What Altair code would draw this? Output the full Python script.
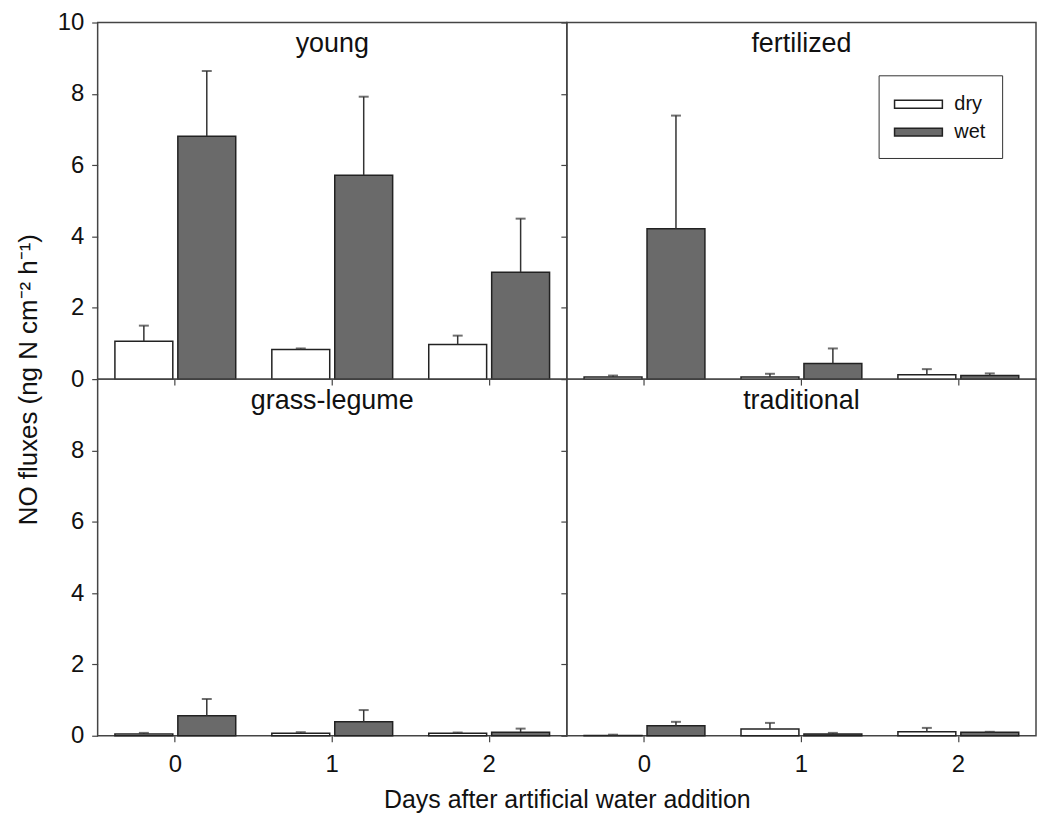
import altair as alt
import pandas as pd

days = ["0", "1", "2"]
conds = ["dry", "wet"]

young_dry = [1.06, 0.83, 0.97]
young_dry_se = [0.44, 0.03, 0.25]
young_wet = [6.81, 5.72, 3.00]
young_wet_se = [1.83, 2.20, 1.50]

fert_dry = [0.06, 0.06, 0.12]
fert_dry_se = [0.04, 0.09, 0.16]
fert_wet = [4.22, 0.44, 0.10]
fert_wet_se = [3.17, 0.42, 0.06]

grass_dry = [0.05, 0.07, 0.07]
grass_dry_se = [0.03, 0.03, 0.02]
grass_wet = [0.56, 0.39, 0.10]
grass_wet_se = [0.47, 0.33, 0.10]

trad_dry = [0.01, 0.19, 0.11]
trad_dry_se = [0.02, 0.17, 0.11]
trad_wet = [0.28, 0.05, 0.10]
trad_wet_se = [0.11, 0.03, 0.01]

FONT = "Liberation Sans"
W, H = 471, 358


def frame(dry, dry_se, wet, wet_se):
    rows = []
    for i, d in enumerate(days):
        rows.append({"day": d, "cond": "dry", "mean": dry[i], "upper": dry[i] + dry_se[i]})
        rows.append({"day": d, "cond": "wet", "mean": wet[i], "upper": wet[i] + wet_se[i]})
    return pd.DataFrame(rows)


legend = alt.Legend(
    orient="none", legendX=784, legendY=53, direction="vertical", title=None,
    strokeColor="#333", fillColor="white", padding=16,
    labelFontSize=20, labelFont=FONT, labelColor="#111", labelOffset=23,
    symbolType="M-2,-0.33H2V0.33H-2Z", symbolSize=576, symbolOffset=11,
    symbolStrokeColor="#222", symbolStrokeWidth=1.5, rowPadding=5,
)


def panel(name, df, left, bottom, ylabels):
    xaxis = alt.Axis(
        labels=bottom, ticks=True, tickSize=6, labelFontSize=24, labelFont=FONT,
        labelColor="#111", labelAngle=0, labelPadding=11, domain=False,
        title="Days after artificial water addition" if (bottom and left) else None,
        titleFontSize=25, titleFont=FONT, titleFontWeight="normal", titleColor="#111",
        titleX=W, titleAlign="center", titlePadding=11,
    )
    if left:
        yaxis = alt.Axis(
            values=ylabels, labels=True, tickSize=6, labelFontSize=24, labelFont=FONT,
            labelColor="#111", labelPadding=8, domain=False, grid=False,
            title="NO fluxes (ng N cm\u207b\u00b2 h\u207b\u00b9)" if ylabels[-1] == 10 else None,
            titleFontSize=26, titleFont=FONT, titleFontWeight="normal", titleColor="#111",
            titleY=H, titleAlign="center", titlePadding=16,
        )
    else:
        yaxis = alt.Axis(values=ylabels, labels=False, tickSize=6, domain=False, grid=False, title=None)

    x = alt.X("day:N", sort=days, scale=alt.Scale(paddingInner=0.23, paddingOuter=0.11), axis=xaxis)
    xo = alt.XOffset("cond:N", sort=conds, scale=alt.Scale(domain=conds, paddingInner=0.08))
    yscale = alt.Scale(domain=[0, 10], nice=False)

    base = alt.Chart(df)
    bars = base.mark_bar(stroke="#222", strokeWidth=1.5).encode(
        x=x, xOffset=xo,
        y=alt.Y("mean:Q", scale=yscale, axis=yaxis),
        color=alt.Color("cond:N", sort=conds,
                        scale=alt.Scale(domain=conds, range=["#ffffff", "#6a6a6a"]),
                        legend=legend),
    )
    err = base.mark_rule(color="#333", strokeWidth=1.5).encode(
        x=x, xOffset=xo, y=alt.Y("mean:Q", scale=yscale), y2="upper:Q",
    )
    cap = base.mark_tick(color="#333", thickness=2, size=10).encode(
        x=x, xOffset=xo, y=alt.Y("upper:Q", scale=yscale),
    )
    title = alt.Chart(pd.DataFrame({"t": [name]})).mark_text(
        fontSize=27, font=FONT, color="#111", baseline="middle", align="center"
    ).encode(text="t:N", x=alt.value(W / 2), y=alt.value(22))
    return alt.layer(bars, err, cap, title).properties(width=W, height=H)


tl = panel("young", frame(young_dry, young_dry_se, young_wet, young_wet_se), True, False, [0, 2, 4, 6, 8, 10])
tr = panel("fertilized", frame(fert_dry, fert_dry_se, fert_wet, fert_wet_se), False, False, [0, 2, 4, 6, 8, 10])
bl = panel("grass-legume", frame(grass_dry, grass_dry_se, grass_wet, grass_wet_se), True, True, [0, 2, 4, 6, 8])
br = panel("traditional", frame(trad_dry, trad_dry_se, trad_wet, trad_wet_se), False, True, [0, 2, 4, 6, 8])

chart = alt.concat(tl, tr, bl, br, columns=2, spacing=0, bounds="flush").properties(
    padding={"left": 6, "top": 0, "right": 0, "bottom": 0}, background="white"
).configure_view(stroke="#444", strokeWidth=1.5).configure_axis(
    tickColor="#444", tickWidth=1.2
)

chart.save("out.html", embed_options={"renderer": "svg", "actions": False})
